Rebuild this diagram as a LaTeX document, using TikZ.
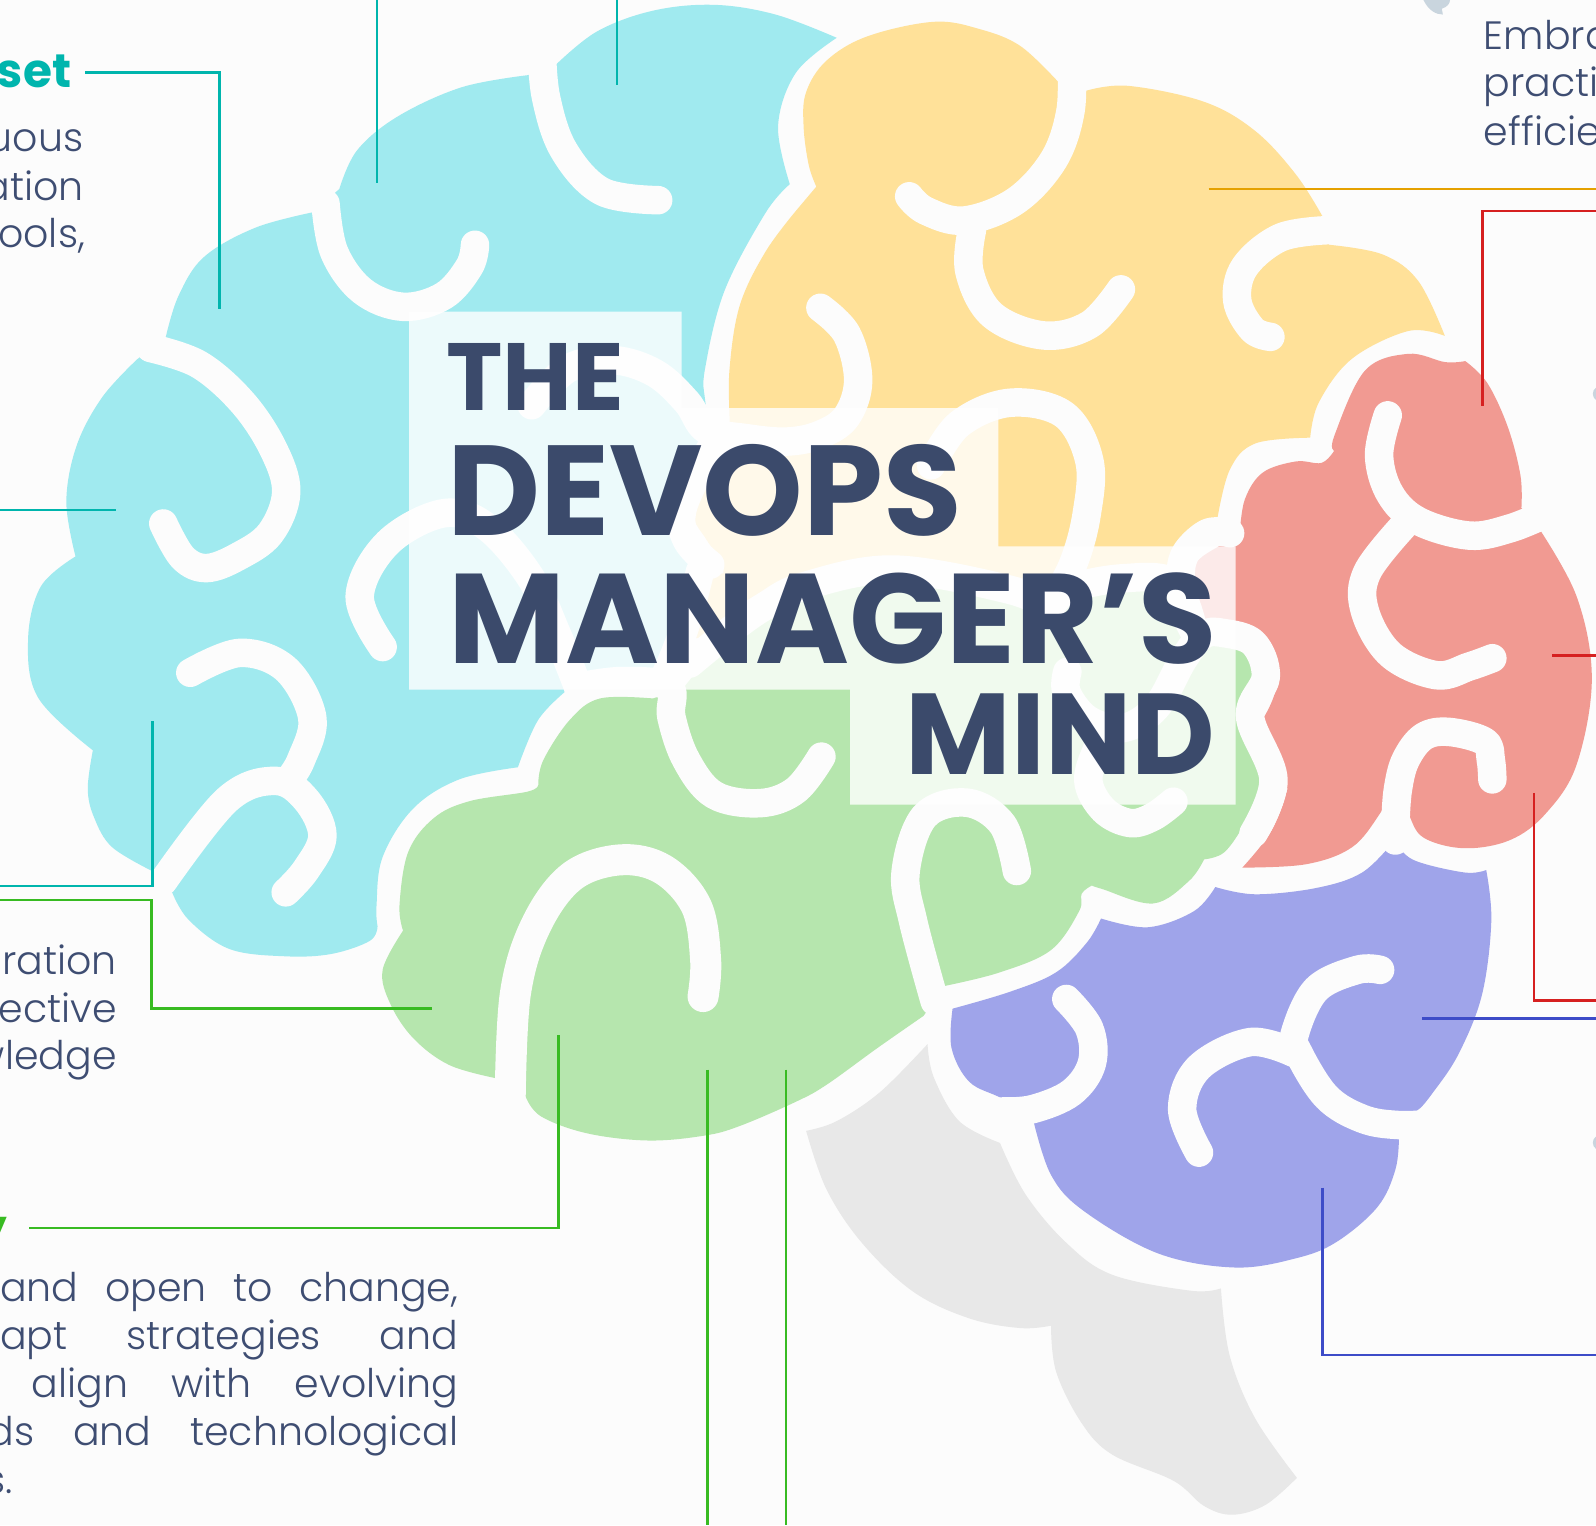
\documentclass[tikz,border=0pt]{standalone}
\usepackage{fontspec}
\setmainfont{Poppins}
\newfontfamily\lightf{Poppins Light}
\definecolor{bgc}{HTML}{FCFCFC}
\definecolor{cya}{HTML}{A0EAEF}
\definecolor{yel}{HTML}{FFE199}
\definecolor{redl}{HTML}{F19A92}
\definecolor{blu}{HTML}{9FA4EA}
\definecolor{gre}{HTML}{B6E6AE}
\definecolor{gry}{HTML}{E8E8E8}
\definecolor{navy}{HTML}{3B4A6B}
\definecolor{bodyc}{HTML}{3E4D72}
\definecolor{teal}{HTML}{00B5AD}
\definecolor{grl}{HTML}{38BB22}
\definecolor{rdl}{HTML}{D62020}
\definecolor{bll}{HTML}{3D4CC8}
\definecolor{orl}{HTML}{E5A100}
\definecolor{iconc}{HTML}{C9D5DE}
\tikzset{
  sm/.style={smooth,tension=0.6},
  gyrus/.style={draw=bgc,line width=28.5pt,line cap=round,line join=round},
  gyrusw/.style={draw=bgc,line width=31pt,line cap=round,line join=round},
  leader/.style={line width=2.5pt,line cap=butt,line join=miter},
  ttl/.style={inner sep=0pt,text=navy,font=\bfseries},
  bodyt/.style={inner sep=0pt,text=bodyc,font=\lightf\fontsize{39.5}{39.5}\selectfont},
  headt/.style={inner sep=0pt,font=\bfseries\fontsize{47}{47}\selectfont}
}
\begin{document}
\begin{tikzpicture}[x=0.5102pt,y=-0.4847pt]
\useasboundingbox (0,0) rectangle (3128.2,3146.3);
\clip (0,0) rectangle (3128.2,3146.3);
\fill[bgc] (0,0) rectangle (3128.2,3146.3);
% brain stem
\fill[gry] plot[sm] coordinates {(1580,2333)(1640,2313)(1725,2253)(1818,2154)}
  -- plot[sm] coordinates {(1818,2154)(1830,2222)(1880,2313)(1960,2358)}
  -- plot[sm] coordinates {(1960,2358)(2010,2464)(2090,2564)(2180,2630)(2335,2663)(2393,2658)}
  -- plot[sm] coordinates {(2393,2658)(2410,2796)(2460,2926)(2542,3049)}
  -- plot[sm] coordinates {(2542,3049)(2480,3105)(2415,3125)(2360,3107)(2300,3055)(2180,3001)(2120,2936)(2070,2830)(2060,2735)}
  -- plot[sm] coordinates {(2060,2735)(2000,2740)(1900,2720)(1790,2665)(1690,2565)(1620,2454)(1580,2333)} -- cycle;
% cyan lobe
\fill[cya] plot[sm] coordinates {(1640,78)(1520,30)(1400,10)(1280,22)(1170,65)(1088,135)}
  -- plot[sm] coordinates {(1035,155)(905,180)(780,240)(700,310)(665,390)}
  -- plot[sm] coordinates {(613,438)(500,470)(400,530)(350,610)(325,695)}
  -- plot[sm] coordinates {(268,742)(200,820)(150,920)(130,1035)(148,1148)}
  -- plot[sm] coordinates {(148,1148)(80,1210)(55,1320)(75,1440)(182,1548)}
  -- plot[sm] coordinates {(182,1548)(172,1628)(185,1688)(220,1748)(300,1798)}
  -- plot[sm] coordinates {(337,1840)(370,1898)(450,1958)(560,1973)(650,1968)(725,1941)(740,1911)}
  -- plot[sm] coordinates {(740,1911)(738,1868)(750,1768)(810,1668)(900,1608)(1015,1583)}
  -- plot[sm] coordinates {(1015,1583)(1055,1485)(1111,1424)}
  -- plot[sm] coordinates {(1111,1424)(1220,1405)(1303,1396)}
  -- plot[sm] coordinates {(1303,1396)(1349,1272)(1372,1179)(1346,1114)(1339,1045)(1398,915)}
  -- plot[sm] coordinates {(1398,915)(1382,825)(1382,760)(1420,600)(1500,440)(1548,380)}
  -- plot[sm] coordinates {(1548,380)(1525,260)(1560,150)(1640,78)} -- cycle;
% yellow lobe
\fill[yel] plot[sm] coordinates {(2075,170)(2000,95)(1920,60)(1830,45)(1700,75)(1620,125)(1580,190)(1575,260)(1585,340)(1600,385)}
  -- plot[sm] coordinates {(1560,435)(1500,520)(1450,630)(1430,760)(1430,870)(1431,942)}
  -- plot[sm] coordinates {(1431,942)(1359,1045)(1385,1114)(1418,1155)}
  -- plot[sm] coordinates {(1418,1183)(1385,1197)(1359,1279)(1365,1317)}
  -- plot[sm] coordinates {(1365,1317)(1437,1296)(1500,1250)(1575,1210)(1751,1175)(1980,1217)(2058,1255)}
  -- plot[sm] coordinates {(2058,1255)(2097,1215)(2202,1193)(2300,1203)}
  -- plot[sm] coordinates {(2300,1203)(2319,1183)(2326,1138)(2368,1099)(2385,1076)}
  -- plot[sm] coordinates {(2385,1076)(2410,970)(2460,915)(2568,903)}
  -- plot[sm] coordinates {(2568,903)(2585,830)(2650,740)(2760,683)(2832,693)}
  -- plot[sm] coordinates {(2832,693)(2780,580)(2710,525)(2605,505)}
  -- plot[sm] coordinates {(2593,448)(2540,360)(2460,270)(2360,210)(2210,177)(2126,188)} -- cycle;
% red lobe
\fill[redl] plot[sm] coordinates {(2872,745)(2832,747)(2760,730)(2675,765)(2615,900)(2615,930)}
  -- plot[sm] coordinates {(2615,930)(2590,955)(2540,952)(2475,975)(2440,1030)(2430,1100)}
  -- plot[sm] coordinates {(2430,1100)(2398,1121)(2339,1169)(2342,1251)(2359,1282)}
  -- plot[sm] coordinates {(2359,1282)(2437,1293)(2502,1396)(2476,1482)}
  -- plot[sm] coordinates {(2476,1482)(2518,1609)(2520,1640)(2490,1718)(2435,1790)}
  -- plot[sm] coordinates {(2435,1790)(2560,1783)(2650,1748)(2705,1678)(2735,1620)}
  -- plot[sm] coordinates {(2735,1620)(2760,1678)(2790,1728)(2870,1750)(2960,1733)(3030,1678)(3090,1578)(3120,1400)(3090,1230)(3012,1083)}
  -- plot[sm] coordinates {(2982,1048)(2980,980)(2955,880)(2915,790)(2872,745)} -- cycle;
% blue lobe
\fill[blu] plot[sm] coordinates {(1867,2081)(1980,2046)(2070,2006)(2130,1945)(2158,1895)}
  -- plot[sm] coordinates {(2158,1895)(2250,1913)(2340,1880)(2382,1830)}
  -- plot[sm] coordinates {(2382,1830)(2460,1845)(2580,1832)(2670,1800)(2733,1734)}
  -- plot[sm] coordinates {(2733,1734)(2770,1774)(2870,1800)(2913,1795)}
  -- plot[sm] coordinates {(2913,1795)(2923,1900)(2905,2051)(2860,2172)(2810,2252)(2775,2293)(2740,2296)}
  -- plot[sm] coordinates {(2742,2345)(2735,2413)(2700,2490)(2620,2562)(2540,2596)(2420,2615)(2270,2586)(2125,2499)(2060,2424)(2025,2310)}
  -- plot[sm] coordinates {(2025,2310)(1965,2267)(1900,2232)(1865,2162)(1867,2081)} -- cycle;
% green lobe
\fill[gre] plot[sm] coordinates {(1339,1420)(1437,1296)(1500,1250)(1575,1210)(1751,1175)(1980,1217)(2058,1255)}
  -- plot[sm] coordinates {(2058,1255)(2097,1215)(2202,1193)(2300,1203)(2340,1270)}
  -- plot[sm] coordinates {(2340,1270)(2398,1306)(2457,1327)(2481,1396)(2450,1478)}
  -- plot[sm] coordinates {(2450,1478)(2465,1568)(2470,1628)(2440,1698)(2400,1758)(2360,1773)}
  -- plot[sm] coordinates {(2360,1773)(2330,1818)(2260,1864)(2160,1834)(2140,1827)}
  -- plot[sm] coordinates {(2140,1827)(2120,1844)(2115,1880)(2060,1960)(1960,2006)(1852,2034)}
  -- plot[sm] coordinates {(1852,2034)(1810,2096)}
  -- plot[sm] coordinates {(1810,2096)(1720,2162)(1620,2238)(1560,2273)(1450,2323)(1380,2343)(1270,2353)(1150,2338)(1060,2303)(1030,2262)}
  -- plot[sm] coordinates {(970,2224)(880,2197)(810,2142)(765,2071)(750,2001)(790,1920)}
  -- plot[sm] coordinates {(790,1920)(783,1868)(800,1758)(850,1688)(920,1653)(1035,1633)(1055,1618)}
  -- plot[sm] coordinates {(1055,1618)(1065,1568)(1117,1485)(1176,1441)(1280,1441)} -- cycle;
% gyri
\draw[gyrus] plot[sm] coordinates {(1062,100)(1070,200)(1105,310)(1180,395)(1290,413)};
\draw[gyrus] plot[sm] coordinates {(638,420)(655,520)(710,600)(790,633)(870,610)(920,550)(931,505)};
\draw[gyrus] plot[sm] coordinates {(295,718)(390,752)(475,830)(535,925)(561,1015)(530,1100)(467,1148)(405,1172)(358,1150)(320,1080)};
\draw[gyrus] plot[sm] coordinates {(373,1388)(470,1347)(560,1380)(612,1480)(590,1568)(565,1610)};
\draw[gyrus] plot[sm] coordinates {(320,1818)(445,1650)(540,1611)(600,1650)(632,1724)(600,1794)(560,1841)};
\draw[gyrus] plot[sm] coordinates {(750,1335)(705,1230)(760,1120)(869,1059)(954,1087)(1039,1190)(1091,1307)(1133,1417)};
\draw[gyrus] plot[sm] coordinates {(1042,836)(1114,760)(1202,743)(1284,770)(1346,829)(1385,887)(1463,904)(1542,911)(1607,897)(1659,860)(1682,785)(1660,690)(1608,635)};
\draw[gyrus] plot[sm] coordinates {(1398,915)(1339,1045)(1346,1114)(1392,1165)};
\draw[gyrus] plot[sm] coordinates {(1372,1179)(1349,1272)(1323,1348)(1303,1396)};
\draw[gyrus] plot[sm] coordinates {(1133,1417)(1220,1405)(1311,1417)(1316,1480)(1345,1568)(1400,1640)(1490,1657)(1560,1630)(1610,1561)};
\draw[gyrus] plot[sm] coordinates {(1352,1369)(1437,1296)(1500,1250)(1575,1210)(1751,1175)(1980,1217)(2058,1255)};
\draw[gyrus] plot[sm] coordinates {(2058,1255)(2097,1215)(2202,1193)(2300,1203)(2339,1300)};
\draw[gyrus] plot[sm] coordinates {(1825,960)(1880,875)(1979,831)(2085,855)(2135,950)(2130,1060)(2104,1162)(2058,1255)};
\draw[gyrus] plot[sm] coordinates {(2411,1100)(2368,1099)(2326,1138)(2314,1183)(2319,1251)(2339,1300)};
\draw[gyrus] plot[sm] coordinates {(2092,1386)(2091,1430)(2133,1485)(2202,1502)(2267,1458)(2319,1361)(2358,1310)(2398,1306)(2457,1327)(2481,1396)(2450,1478)(2496,1609)(2457,1719)};
\draw[gyrus] plot[sm] coordinates {(2300,1654)(2260,1685)(2215,1698)(2163,1671)(2133,1609)(2156,1533)(2176,1506)};
\draw[gyrus] plot[sm] coordinates {(2100,130)(2098,230)(2065,330)(1990,415)(1890,455)(1815,435)(1782,405)};
\draw[gyrus] plot[sm] coordinates {(1905,475)(1900,560)(1945,650)(2045,692)(2135,670)(2197,597)};
\draw[gyrus] plot[sm] coordinates {(2600,475)(2510,490)(2440,550)(2425,620)(2455,680)(2490,695)};
\draw[gyrus] plot[sm] coordinates {(2720,857)(2703,940)(2725,1020)(2780,1075)(2880,1105)(2960,1090)(3030,1060)};
\draw[gyrus] plot[sm] coordinates {(2755,1080)(2680,1180)(2675,1260)(2725,1350)(2815,1393)(2880,1375)(2925,1358)};
\draw[gyrus] plot[sm] coordinates {(2735,1734)(2735,1698)(2740,1628)(2755,1568)(2790,1520)(2840,1510)(2910,1530)(2922,1568)(2925,1608)};
\draw[gyrus] plot[sm] coordinates {(2090,2061)(2135,2122)(2140,2194)(2100,2254)(2025,2288)(1965,2293)};
\draw[gyrus] plot[sm] coordinates {(2705,2001)(2660,2001)(2580,2041)(2538,2132)(2545,2172)(2600,2263)(2670,2308)(2740,2321)(2820,2318)};
\draw[gyrus] plot[sm] coordinates {(2350,2378)(2317,2288)(2350,2202)(2450,2150)(2535,2172)};
\draw[gyrus] plot[sm] coordinates {(1993,1797)(1965,1701)(1895,1656)(1812,1684)(1775,1799)(1790,1902)(1832,2066)};
\draw[gyrusw] plot[sm] coordinates {(1378,2056)(1383,1980)(1365,1870)(1300,1794)(1215,1774)(1120,1809)(1050,1910)(1010,2051)(1000,2265)};
% title band
\fill[white,opacity=.8] (802,643) -- (1336,643) -- (1336,842) -- (1957,842) -- (1957,1127) -- (2422,1127) -- (2422,1660) -- (1666,1660) -- (1666,1423) -- (802,1423) -- cycle;
% leaders
\draw[leader,teal] (167,150) -- (430,150) -- (430,637);
\draw[leader,teal] (739,0) -- (739,378);
\draw[leader,teal] (1209,0) -- (1209,175);
\draw[leader,teal] (0,1052) -- (228,1052);
\draw[leader,teal] (299,1488) -- (299,1828) -- (0,1828);
\draw[leader,grl] (0,1857) -- (297,1857) -- (297,2081) -- (846,2081);
\draw[leader,grl] (57,2534) -- (1095,2534) -- (1095,2135);
\draw[leader,grl] (1387,2207) -- (1387,3146);
\draw[leader,grl] (1541,2207) -- (1541,3146);
\draw[leader,orl] (2369,390) -- (3128,390);
\draw[leader,rdl] (3128,435) -- (2906,435) -- (2906,837);
\draw[leader,rdl] (3042,1352) -- (3128,1352);
\draw[leader,rdl] (3007,1636) -- (3007,2064) -- (3128,2064);
\draw[leader,bll] (2788,2101) -- (3128,2101);
\draw[leader,bll] (2592,2450) -- (2592,2796) -- (3128,2796);
% icon fragments
\fill[iconc] (2790,0) .. controls (2800,22) and (2815,30) .. (2828,30) -- (2826,18) .. controls (2838,14) and (2842,6) .. (2842,0) -- cycle;
\fill[iconc] (3128,800) .. controls (3120,805) and (3120,820) .. (3128,825) -- cycle;
\fill[iconc] (3128,2345) .. controls (3120,2350) and (3120,2365) .. (3128,2370) -- cycle;
% title
\node[ttl,anchor=base west,font=\bfseries\fontsize{95.5}{95.5}\selectfont] (tthe) at (874,846) {THE};
\node[ttl,anchor=base west,font=\bfseries\fontsize{128}{128}\selectfont] (tdev) at (876,1104) {DEVOPS};
\node[ttl,anchor=base east,font=\bfseries\fontsize{127.5}{127.5}\selectfont] (tman) at (2386,1368) {MANAGER’S};
\node[ttl,anchor=base east,font=\bfseries\fontsize{115}{115}\selectfont] (tmin) at (2382,1597) {MIND};
% texts
\node[headt,text=teal,anchor=base east] (h1) at (140,180) {set};
\node[bodyt,anchor=base east] (a1) at (164,313) {uous};
\node[bodyt,anchor=base east] (a2) at (164,413) {ation};
\node[bodyt,anchor=base east] (a3) at (167,511) {ools,};
\node[bodyt,anchor=base east] (b1) at (229,2011) {ration};
\node[bodyt,anchor=base east] (b2) at (229,2110) {ective};
\node[bodyt,anchor=base east] (b3) at (229,2207) {wledge};
\node[headt,text=grl,anchor=base east] (h2) at (14,2566) {y};
\node[bodyt,anchor=base west] (c1) at (0,2685) {\hbox to 458pt{and\hfill open\hfill to\hfill change,}};
\node[bodyt,anchor=base west] (c2) at (0,2785) {\hbox to 458pt{apt\hfill strategies\hfill and}};
\node[bodyt,anchor=base west] (c3) at (62,2884) {\hbox to 426pt{align\hfill with\hfill evolving}};
\node[bodyt,anchor=base west] (c4) at (-25,2982) {\hbox to 471pt{ds\hfill and\hfill technological}};
\node[bodyt,anchor=base east] (c5) at (25,3082) {s.};
\node[bodyt,anchor=base west] (d1) at (2908,103) {Embra};
\node[bodyt,anchor=base west] (d2) at (2908,200) {practi};
\node[bodyt,anchor=base west] (d3) at (2908,300) {efficie};
\end{tikzpicture}
\end{document}
